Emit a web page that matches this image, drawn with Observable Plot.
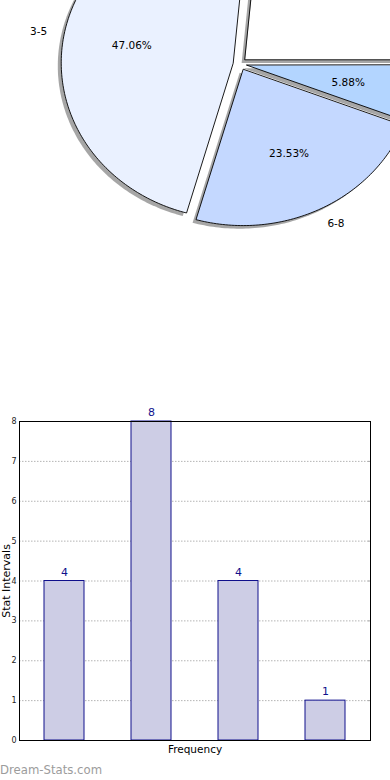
<!DOCTYPE html>
<html><head><meta charset="utf-8">
<script src="https://cdn.jsdelivr.net/npm/d3@7"></script>
<script src="https://cdn.jsdelivr.net/npm/@observablehq/plot@0.6"></script>
<style>
html,body{margin:0;padding:0;background:#fff;width:390px;height:780px;overflow:hidden;font-family:"DejaVu Sans",sans-serif;}
#pie{position:absolute;left:0;top:0;width:390px;height:400px;overflow:hidden;}
#bar{position:absolute;left:0;top:400px;width:390px;height:380px;overflow:hidden;}
#wm{position:absolute;left:0;top:763px;font-size:11.7px;line-height:14px;color:#9c9c9c;font-family:"DejaVu Sans",sans-serif;}
svg{display:block;}
</style></head><body>
<div id="pie"></div><div id="bar"></div><div id="wm">Dream-Stats.com</div>
<script>
// ---- data ----
const categories = ["0-2", "3-5", "6-8", "9-11"];
const frequencies = [4, 8, 4, 1];
const yTickValues = [0, 1, 2, 3, 4, 5, 6, 7, 8];
const sliceColors = ["#ffffff", "#eaf1ff", "#c4d8ff", "#b3d5ff"];

// ---- pie geometry (matplotlib-style: start at 0 rad, counter-clockwise) ----
const total = d3.sum(frequencies);
const explode = 0.04, shadowOff = 0.02;
let acc = 0;
const slices = categories.map((c, i) => {
  const span = frequencies[i] / total * 2 * Math.PI;
  const s = {cat: c, value: frequencies[i], a0: acc, a1: acc + span, mid: acc + span / 2};
  acc += span;
  s.cx = explode * Math.cos(s.mid);
  s.cy = explode * Math.sin(s.mid);
  s.pct = (frequencies[i] / total * 100).toFixed(2) + "%";
  return s;
});
function wedge(s, ox, oy) {
  const pts = [{cat: s.cat, x: s.cx + ox, y: s.cy + oy}];
  const n = Math.max(6, Math.ceil((s.a1 - s.a0) / (Math.PI / 180)));
  for (let k = 0; k <= n; k++) {
    const t = s.a0 + (s.a1 - s.a0) * k / n;
    pts.push({cat: s.cat, x: s.cx + ox + Math.cos(t), y: s.cy + oy + Math.sin(t)});
  }
  return pts;
}
const wedgePts = slices.flatMap(s => wedge(s, 0, 0));
const shadowPts = slices.flatMap(s => wedge(s, -shadowOff, -shadowOff));

const CX = 239.5, CY = 63.5, RX = 172, RY = 156;
const xDom = [-CX / RX, (390 - CX) / RX];
const yDom = [(CY - 400) / RY, CY / RY];
// label anchors; only those that land inside the visible picture are drawn
const pctLabels = slices.map(d => ({text: d.pct, x: d.cx + 0.6 * Math.cos(d.mid), y: d.cy + 0.6 * Math.sin(d.mid)}))
  .filter(d => d.y < yDom[1] - 0.05 && d.x < xDom[1] - 0.15);
const catLabels = slices.map(d => ({text: d.cat, right: Math.cos(d.mid) >= 0, x: d.cx + 1.1 * Math.cos(d.mid), y: d.cy + 1.1 * Math.sin(d.mid)}))
  .filter(d => d.y < yDom[1] - 0.05 && d.x < xDom[1] - 0.15);

const pie = Plot.plot({
  width: 390, height: 400, margin: 0,
  x: {domain: xDom, axis: null},
  y: {domain: yDom, axis: null},
  color: {type: "ordinal", domain: categories, range: sliceColors},
  style: {fontFamily: "DejaVu Sans", background: "transparent", overflow: "hidden"},
  marks: [
    Plot.line(shadowPts, {x: "x", y: "y", z: "cat", fill: "#4d4d4d", fillOpacity: 0.5, stroke: "none", curve: "linear-closed"}),
    Plot.line(wedgePts, {x: "x", y: "y", z: "cat", fill: "cat", stroke: "black", strokeWidth: 0.9, curve: "linear-closed"}),
    Plot.text(pctLabels, {x: "x", y: "y", text: "text", fontSize: 10.5, fill: "black"}),
    Plot.text(catLabels.filter(d => d.right), {x: "x", y: "y", text: "text", textAnchor: "start", fontSize: 10.5, fill: "black"}),
    Plot.text(catLabels.filter(d => !d.right), {x: "x", y: "y", text: "text", textAnchor: "end", fontSize: 10.5, fill: "black"})
  ]
});
document.getElementById("pie").appendChild(pie);

// ---- bar chart ----
const barData = categories.map((c, i) => ({cat: c, value: frequencies[i]}));
const navy = "#10108c";
const bar = Plot.plot({
  width: 390, height: 380,
  marginLeft: 19, marginRight: 20, marginTop: 21, marginBottom: 40,
  x: {domain: categories, paddingInner: 0.545, paddingOuter: 0.2725, axis: null},
  y: {domain: [0, 8], axis: null},
  style: {fontFamily: "DejaVu Sans", background: "white", fontSize: "8px", overflow: "visible"},
  marks: [
    Plot.ruleY(yTickValues, {stroke: "#b4b4b4", strokeDasharray: "1.5,1.5", strokeWidth: 1}),
    Plot.barY(barData, {x: "cat", y: "value", fill: "#cdcde5", stroke: navy, strokeWidth: 1}),
    Plot.text(barData, {x: "cat", y: "value", text: d => String(d.value), dy: -9, fill: navy, fontSize: 11}),
    Plot.axisY(yTickValues, {anchor: "left", tickSize: 0, tickPadding: 3, color: "#222", label: null, tickFormat: d => String(d)}),
    Plot.axisY(yTickValues, {anchor: "right", tickSize: -3, tickFormat: () => "", stroke: "#a8a8a8", label: null}),
    Plot.frame({stroke: "black", strokeWidth: 1}),
    Plot.text(["Frequency"], {frameAnchor: "bottom", lineAnchor: "middle", dy: 9, fontSize: 10.5, fill: "black"}),
    Plot.text(["Stat Intervals"], {frameAnchor: "left", textAnchor: "middle", lineAnchor: "middle", rotate: -90, dx: -13.5, fontSize: 11, fill: "black"})
  ]
});
document.getElementById("bar").appendChild(bar);
</script>
</body></html>
